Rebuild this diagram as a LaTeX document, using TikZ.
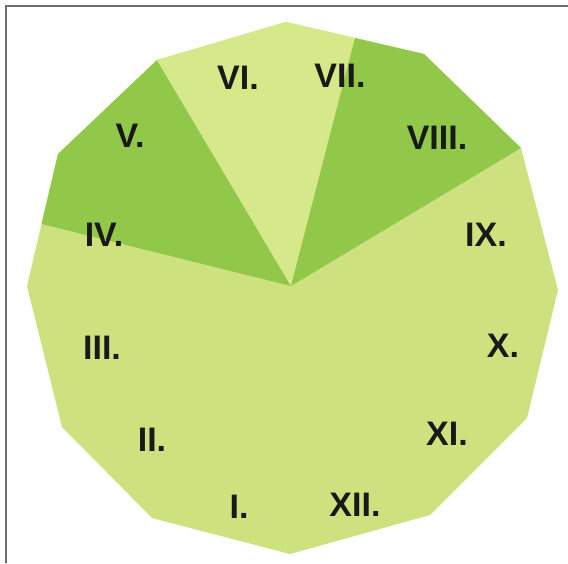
\documentclass[tikz,border=0pt]{standalone}
\usepackage{fontspec}
\setmainfont{Liberation Sans}
\usetikzlibrary{positioning,calc}
\definecolor{leafbase}{HTML}{CDE27E}
\definecolor{leaflight}{HTML}{D5E98B}
\definecolor{leafdark}{HTML}{92C84A}
\definecolor{framegray}{HTML}{6E6E6E}
\tikzset{
  numeral/.style={font=\fontsize{34}{34}\selectfont\bfseries,text=black!90,inner sep=0pt},
  darkpart/.style={fill=leafdark,draw=none},
  lightpart/.style={fill=leaflight,draw=none}
}
\begin{document}
\begin{tikzpicture}[x=1pt,y=-1pt]
  \useasboundingbox (0,0) rectangle (568,563);
  \fill[white] (0,0) rectangle (568,563);
  % frame, top and left only
  \draw[framegray,line width=1.6pt] (6,563) -- (6,6) -- (568,6);

  % corners of the dial
  \coordinate (c) at (291,286);
  \coordinate (p90) at (286,22);
  \coordinate (p60) at (424,54);
  \coordinate (p30) at (521,148);
  \coordinate (p0) at (558,290);
  \coordinate (pm30) at (527,418);
  \coordinate (pm60) at (430,515);
  \coordinate (pm90) at (290,554);
  \coordinate (pm120) at (152,518);
  \coordinate (pm150) at (62,427);
  \coordinate (p180) at (27,286);
  \coordinate (p150) at (58,154);
  \coordinate (p120) at (157,60);

  % whole dial
  \fill[leafbase] (p90) -- (p60) -- (p30) -- (p0) -- (pm30) -- (pm60) -- (pm90)
    -- (pm120) -- (pm150) -- (p180) -- (p150) -- (p120) -- cycle;

  % shaded sectors
  \coordinate (cutL) at ($(p150)!0.53!(p180)$);
  \coordinate (cutT) at ($(p90)!0.50!(p60)$);
  \fill[darkpart] (c) -- (cutL) -- (p150) -- (p120) -- cycle;
  \fill[lightpart] (c) -- (p120) -- (p90) -- (cutT) -- cycle;
  \fill[darkpart] (c) -- (cutT) -- (p60) -- (p30) -- cycle;

  % numerals
  \node[numeral] (n1) at (239,507) {I.};
  \node[numeral] (n2) at (152,440) {II.};
  \node[numeral] (n3) at (102,348) {III.};
  \node[numeral] (n4) at (104,235) {IV.};
  \node[numeral] (n5) at (130,136) {V.};
  \node[numeral] (n6) at (238,78) {VI.};
  \node[numeral] (n7) at (340,76) {VII.};
  \node[numeral] (n8) at (437,138) {VIII.};
  \node[numeral] (n9) at (486,235) {IX.};
  \node[numeral] (n10) at (503,346) {X.};
  \node[numeral] (n11) at (447,434) {XI.};
  \node[numeral] (n12) at (355,505) {XII.};
\end{tikzpicture}
\end{document}
